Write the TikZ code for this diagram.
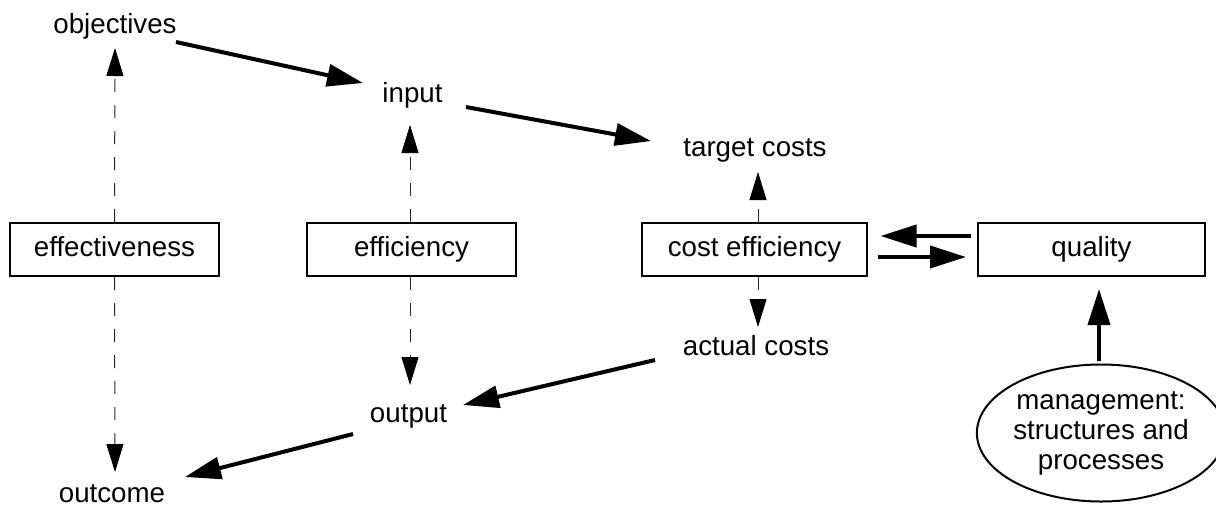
\documentclass[tikz,border=0pt]{standalone}
\usepackage{fontspec}
\setmainfont{Liberation Sans}
\usetikzlibrary{arrows.meta,calc,shapes.geometric}
\begin{document}
\begin{tikzpicture}[x=1pt,y=-1pt,
  every node/.style={font=\fontsize{27.7}{30}\selectfont},
  lbl/.style={inner sep=0pt,text height=20pt,text depth=6pt},
  boxnode/.style={draw,line width=2pt,minimum height=53pt,inner sep=0pt,text height=20pt,text depth=6pt},
  thickarrow/.style={line width=4pt,-{Triangle[length=36pt,width=22pt]}},
  dasharrow/.style={line width=1pt,draw=black!85,dash pattern=on 13pt off 13pt,-{Triangle[length=28pt,width=17pt,color=black]}}]
\useasboundingbox (0,0) rectangle (1216,507);
% text nodes
\node[lbl] (obj) at (115,26) {objectives};
\node[lbl] (inp) at (412.5,95) {input};
\node[lbl] (tgt) at (755,149) {target costs};
\node[lbl] (act) at (756,348) {actual costs};
\node[lbl] (out) at (408.5,415) {output};
\node[lbl] (outc) at (112,495) {outcome};
% boxes
\node[boxnode,minimum width=209pt] (eff) at (114.5,249.5) {effectiveness};
\node[boxnode,minimum width=209pt] (effi) at (411.5,249.5) {efficiency};
\node[boxnode,minimum width=225pt] (cost) at (754.5,249.5) {cost efficiency};
\node[boxnode,minimum width=227pt] (qual) at (1091.5,249.5) {quality};
\node[draw,ellipse,line width=2pt,minimum width=226pt,minimum height=137pt,inner sep=0pt,align=center] (mgmt) at (1101,433) {management:\\structures and\\processes};
% thick arrows
\draw[thickarrow] ($(obj.center)+(61,16)$) -- ($(inp.center)+(-49.5,-12)$);
\draw[thickarrow] ($(inp.center)+(53.5,12)$) -- ($(tgt.center)+(-104,-8)$);
\draw[thickarrow] ($(act.center)+(-101,12)$) -- ($(out.center)+(54.5,-10)$);
\draw[thickarrow] ($(out.center)+(-55.5,19)$) -- ($(outc.center)+(73,-18)$);
\draw[thickarrow] ($(qual.west)+(-6,-13.5)$) -- ($(cost.east)+(12.5,-13.5)$);
\draw[thickarrow] ($(cost.east)+(9.5,7.5)$) -- ($(qual.west)+(-11,7.5)$);
\draw[thickarrow] ($(mgmt.north)+(-2,-3)$) -- ($(qual.south)+(7.5,12)$);
% dashed arrows
\draw[dasharrow] (eff.north) -- ($(obj.center)+(0,22)$);
\draw[dasharrow] (eff.south) -- ($(outc.center)+(3,-23)$);
\draw[dasharrow] ($(effi.north)+(-1.5,0)$) -- ($(inp.center)+(-2.5,30)$);
\draw[dasharrow] ($(effi.south)+(-1.5,0)$) -- ($(out.center)+(1.5,-30)$);
\draw[dasharrow] ($(cost.north)+(3.5,0)$) -- ($(tgt.center)+(3,23)$);
\draw[dasharrow] ($(cost.south)+(3.5,0)$) -- ($(act.center)+(2,-21)$);
\end{tikzpicture}
\end{document}
